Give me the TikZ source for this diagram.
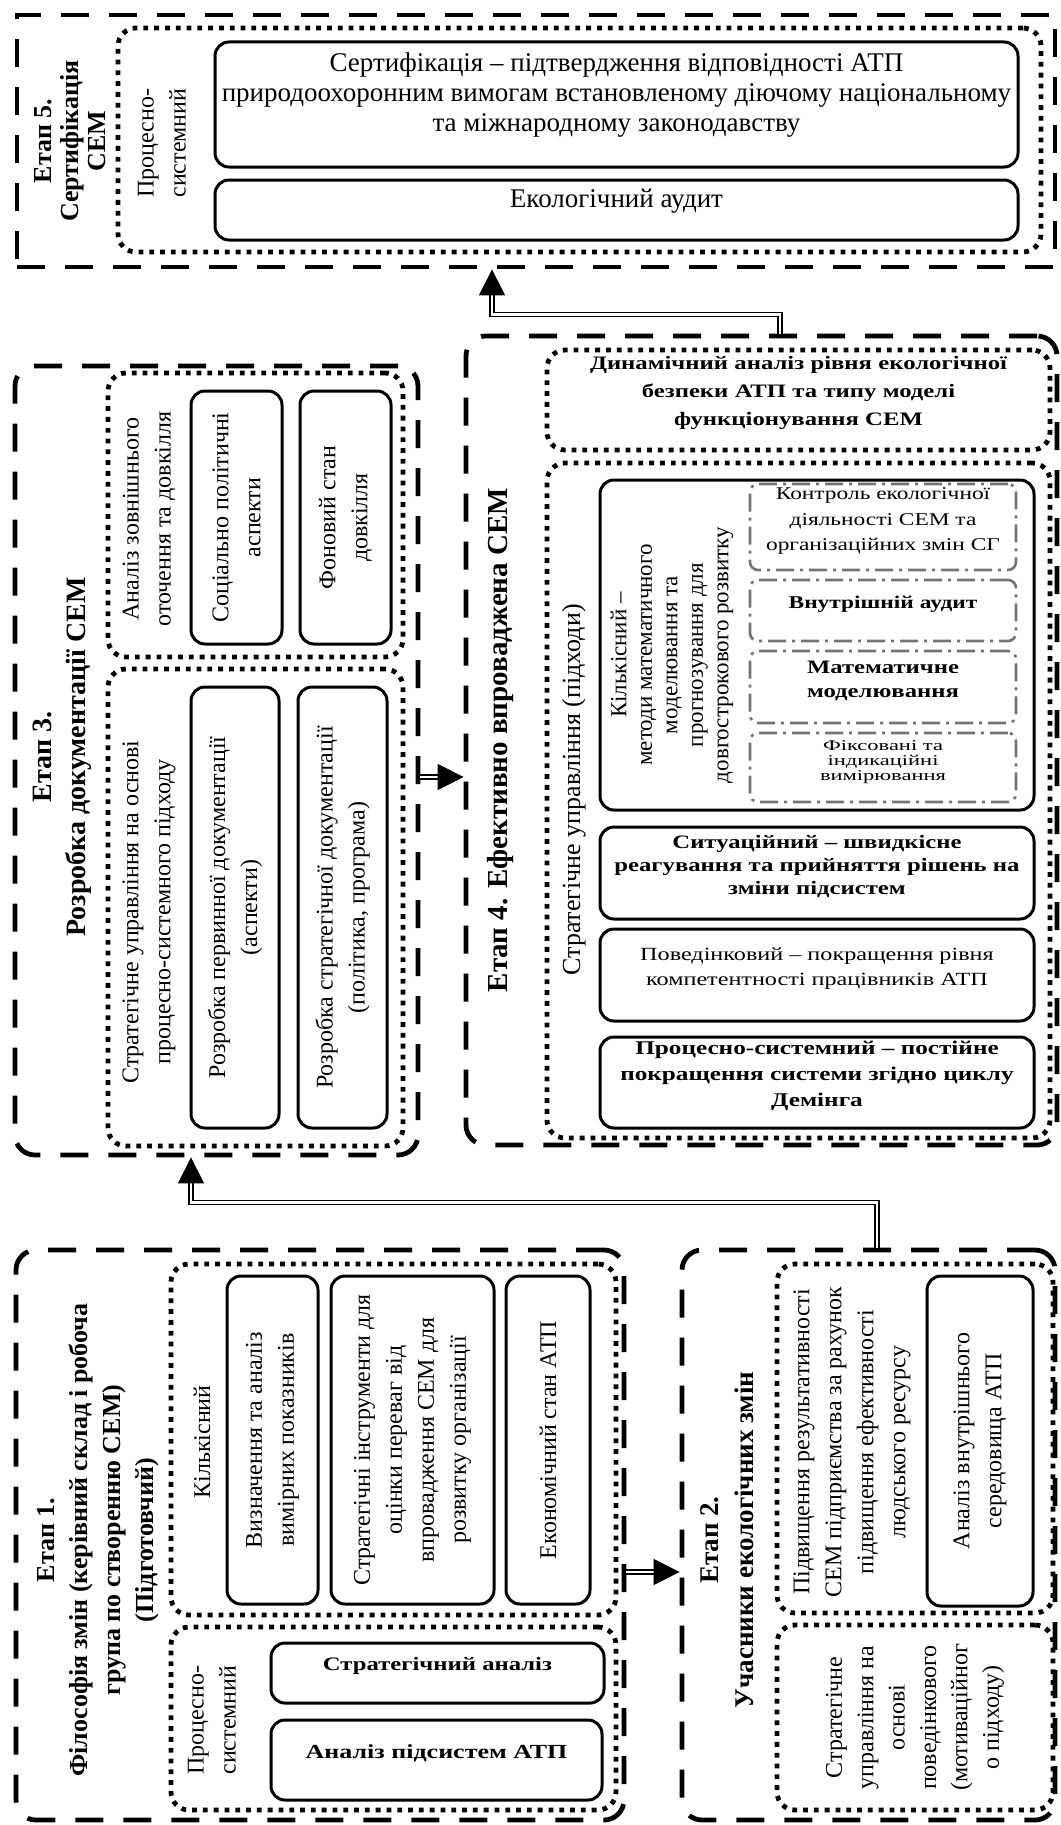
\documentclass[tikz,border=0pt]{standalone}
\usepackage{fontspec}
\setmainfont{Liberation Serif}
\newfontfamily\widefont{Liberation Serif}[FakeStretch=1.3]
\newfontfamily\flatfont{Liberation Serif}[FakeStretch=1.5]
\usetikzlibrary{positioning,fit,arrows.meta}

\begin{document}
\begin{tikzpicture}[
    x=0.5pt, y=-0.5pt,
    stagebox/.style={draw, line width=2.4pt, dash pattern=on 14pt off 10pt, rounded corners=10pt, inner sep=0pt},
    grpbox/.style={draw, line width=2.4pt, dash pattern=on 2.4pt off 3pt, rounded corners=9pt, inner sep=0pt},
    block/.style={draw, line width=1.5pt, rounded corners=7pt, inner sep=0pt, align=center},
    subbox/.style={draw=black!55, line width=1.3pt, dash pattern=on 9pt off 3pt on 1.5pt off 3pt, rounded corners=4pt, inner sep=0pt, align=center},
    vtext/.style={rotate=90, align=center, inner sep=0pt, font=\fontsize{12}{16}\selectfont},
    vtitle/.style={rotate=90, align=center, inner sep=0pt, font=\bfseries\fontsize{13}{16}\selectfont},
    link/.style={double, double distance=1.2pt, line width=0.7pt, -{Triangle[length=13pt,width=13pt]}}
]
    \useasboundingbox (0,0) rectangle (1060,1825);

    % Stage 5
    \node[stagebox, rounded corners=0pt, fit={(17,15) (1055,267)}] (s5) {};
    \node[vtitle, font=\bfseries\fontsize{13}{13.5}\selectfont] (s5title) at (70,141) {Етап 5.\\Сертифікація\\СЕМ};
    \node[grpbox, fit={(118,28) (1041,252)}] (s5grp) {};
    \node[vtext] (s5lbl) at (162,143) {Процесно-\\системний};
    \node[block, fit={(215,42) (1018,167)}, font=\fontsize{13.5}{15}\selectfont] (cert) {Сертифікація – підтвердження відповідності АТП\\природоохоронним вимогам встановленому діючому національному\\та міжнародному законодавству};
    \node[block, fit={(215,180) (1018,240)}, font=\fontsize{13.5}{15}\selectfont] (audit) {Екологічний аудит};

    % Stage 4
    \node[stagebox, fit={(466,336) (1057,1145)}] (s4) {};
    \node[vtitle, font=\bfseries\fontsize{14.5}{16}\selectfont] (s4title) at (501,740) {Етап 4. Ефективно впроваджена СЕМ};
    \node[grpbox, fit={(547,350) (1050,450)}, align=center, font=\widefont\bfseries\fontsize{9.5}{14}\selectfont] (dyn) {Динамічний аналіз рівня екологічної\\безпеки АТП та типу моделі\\функціонування СЕМ};
    \node[grpbox, fit={(547,463) (1050,1138)}] (appr) {};
    \node[vtext, font=\fontsize{13}{15}\selectfont] (apprlbl) at (574,790) {Стратегічне управління (підходи)};
    \node[block, fit={(600,480) (1034,810)}] (quant) {};
    \node[vtext, font=\fontsize{11.5}{12.75}\selectfont] (quantlbl) at (672,655) {Кількісний –\\методи математичного\\моделювання та\\прогнозування для\\довгострокового розвитку};
    \node[subbox, fit={(750,484) (1016,570)}, font=\widefont\fontsize{9}{12.75}\selectfont] (ctrl) {Контроль екологічної\\діяльності СЕМ та\\організаційних змін СГ};
    \node[subbox, fit={(750,580) (1016,641)}, font=\widefont\bfseries\fontsize{9}{12}\selectfont] (intaud) {Внутрішній аудит};
    \node[subbox, fit={(750,651) (1016,723)}, font=\widefont\bfseries\fontsize{9.5}{12}\selectfont] (mathm) {Математичне\\моделювання};
    \node[subbox, fit={(750,733) (1016,802)}, font=\flatfont\fontsize{7.5}{7.5}\selectfont] (fixm) {Фіксовані та\\індикаційні\\вимірювання};
    \node[block, fit={(600,827) (1034,919)}, font=\widefont\bfseries\fontsize{9.5}{11.5}\selectfont] (situ) {Ситуаційний – швидкісне\\реагування та прийняття рішень на\\зміни підсистем};
    \node[block, fit={(600,929) (1034,1021)}, font=\widefont\fontsize{9.3}{12.5}\selectfont] (behav) {Поведінковий – покращення рівня\\компетентності працівників АТП};
    \node[block, fit={(600,1037) (1034,1128)}, font=\widefont\bfseries\fontsize{9.7}{13}\selectfont] (procs) {Процесно-системний – постійне\\покращення системи згідно циклу\\Демінга};

    % Stage 3
    \node[stagebox, fit={(15,366) (418,1155)}] (s3) {};
    \node[vtitle, font=\bfseries\fontsize{14}{17}\selectfont] (s3title) at (62,757) {Етап 3.\\Розробка документації СЕМ};
    \node[grpbox, fit={(108,373) (403,657)}] (ext) {};
    \node[vtext] (extlbl) at (149,519) {Аналіз зовнішнього\\оточення та довкілля};
    \node[block, fit={(191,391) (282,644)}] (soc) {};
    \node[vtext] (soclbl) at (soc) {Соціально політичні\\аспекти};
    \node[block, fit={(300,391) (391,644)}] (bg) {};
    \node[vtext] (bglbl) at (bg) {Фоновий стан\\довкілля};
    \node[grpbox, fit={(108,669) (403,1146)}] (doc) {};
    \node[vtext] (doclbl) at (149,912) {Стратегічне управління на основі\\процесно-системного підходу};
    \node[block, fit={(191,687) (279,1128)}] (prim) {};
    \node[vtext] (primlbl) at (prim) {Розробка первинної документації\\(аспекти)};
    \node[block, fit={(298,687) (387,1128)}] (stdoc) {};
    \node[vtext] (stdoclbl) at (stdoc) {Розробка стратегічної документації\\(політика, програма)};

    % Stage 1
    \node[stagebox, fit={(16,1250) (624,1820)}] (s1) {};
    \node[vtitle, font=\bfseries\fontsize{13}{16.5}\selectfont] (s1title) at (98,1540) {Етап 1.\\Філософія змін (керівний склад і робоча\\група по створенню СЕМ)\\(Підготовчий)};
    \node[grpbox, fit={(171,1264) (616,1615)}] (q1) {};
    \node[vtext] (q1lbl) at (202,1442) {Кількісний};
    \node[block, fit={(227,1276) (318,1604)}] (meas) {};
    \node[vtext] (measlbl) at (meas) {Визначення та аналіз\\вимірних показників};
    \node[block, fit={(331,1276) (494,1604)}] (tools) {};
    \node[vtext] (toolslbl) at (tools) {Стратегічні інструменти для\\оцінки переваг від\\впровадження СЕМ для\\розвитку організації};
    \node[block, fit={(506,1276) (590,1604)}] (econ) {};
    \node[vtext] (econlbl) at (econ) {Економічний стан АТП};
    \node[grpbox, fit={(171,1627) (616,1810)}] (p1) {};
    \node[vtext] (p1lbl) at (212,1720) {Процесно-\\системний};
    \node[block, fit={(271,1643) (604,1703)}, font=\widefont\bfseries\fontsize{9.5}{12}\selectfont] (stran) {Стратегічний аналіз};
    \node[block, fit={(271,1720) (602,1800)}, font=\widefont\bfseries\fontsize{10}{12}\selectfont] (subsys) {Аналіз підсистем АТП};

    % Stage 2
    \node[stagebox, fit={(682,1250) (1055,1820)}] (s2) {};
    \node[vtitle, font=\bfseries\fontsize{13.5}{17.5}\selectfont] (s2title) at (727,1540) {Етап 2.\\Учасники екологічних змін};
    \node[grpbox, fit={(777,1264) (1053,1613)}] (perf) {};
    \node[vtext] (perflbl) at (852,1442) {Підвищення результативності\\СЕМ підприємства за рахунок\\підвищення ефективності\\людського ресурсу};
    \node[block, fit={(927,1276) (1033,1606)}] (inner) {};
    \node[vtext] (innerlbl) at (inner) {Аналіз внутрішнього\\середовища АТП};
    \node[grpbox, fit={(777,1625) (1053,1810)}] (motiv) {};
    \node[vtext, font=\fontsize{12}{15.7}\selectfont] (motivlbl) at (motiv) {Стратегічне\\управління на\\основі\\поведінкового\\(мотиваційног\\о підходу)};

    % Connections
    \draw[link] ([yshift=-18.5pt]s1.east) -- ([yshift=-18.5pt]s1.east -| s2.west);
    \draw[link] ([xshift=4.25pt]s2.north) -- ++(0,-45) -| ([xshift=-12.75pt]s3.south);
    \draw[link] ([yshift=-8.25pt]s3.east) -- ([yshift=-8.25pt]s3.east -| s4.west);
    \draw[link] ([xshift=9.25pt]s4.north) -- ++(0,-19) -| ([xshift=-22pt]s5.south);
\end{tikzpicture}
\end{document}
